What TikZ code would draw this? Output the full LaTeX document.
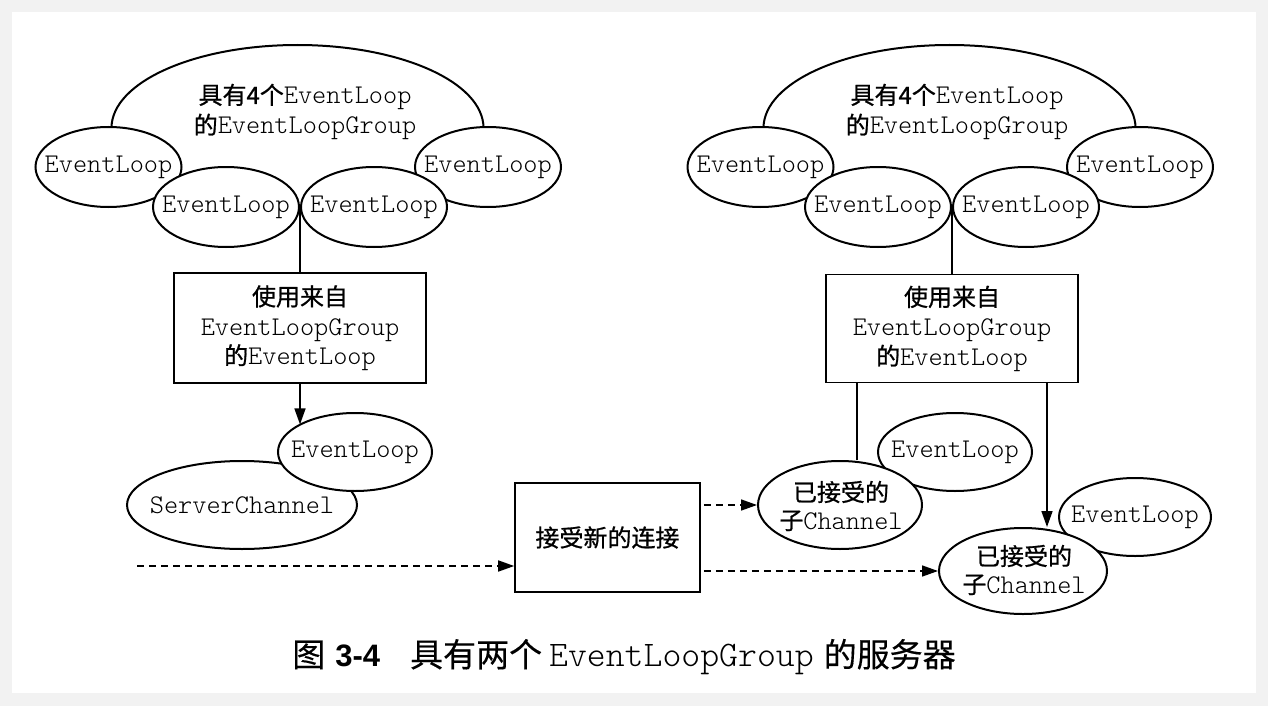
\documentclass[tikz,border=0pt]{standalone}
\usepackage{fontspec}
\newfontfamily\cjk{Noto Sans CJK SC}[FakeBold=0.8]
\newfontfamily\cjkcap{Noto Sans CJK SC}[FakeBold=0.3]
\newfontfamily\mnfam{lmmonolt10-regular.otf}
\newfontfamily\capsans{Liberation Sans}
\usetikzlibrary{shapes.geometric,arrows.meta,calc}
\newcommand\mn{\mnfam\fontsize{13.5}{15}\selectfont}
\newcommand\zh{\cjk\fontsize{12}{15}\selectfont}
\begin{document}
\begin{tikzpicture}[x=0.5pt,y=-0.5pt,
  el/.style={ellipse,draw,line width=1pt,fill=white,inner sep=0pt},
  box/.style={rectangle,draw,line width=0.8pt,fill=white,inner sep=0pt,align=center,font=\fontsize{12}{14.75}\selectfont},
  conn/.style={line width=0.8pt},
  arr/.style={line width=0.8pt,-{Triangle[length=8pt,width=5.5pt]}},
  darr/.style={line width=0.8pt,dash pattern=on 3.5pt off 2.5pt,-{Triangle[length=8pt,width=5.5pt]}},
  txt/.style={align=center,inner sep=0pt,font=\fontsize{12}{15}\selectfont},
  bigarc/.style={line width=1pt}]
\fill[black!5] (0,0) rectangle (1268,706);
\fill[white] (12,12) rectangle (1256,693);
\useasboundingbox (0,0) rectangle (1268,706);

% ---------- left group ----------
\coordinate (G1w) at (111.5,128);
\draw[bigarc] (G1w) arc[start angle=180,end angle=0,x radius=93pt,y radius=41.5pt];
\node[el,minimum width=73pt,minimum height=40pt] (L1) at (108.5,167) {};
\node[el,minimum width=73pt,minimum height=40pt] (L4) at (488,167) {};
\node[el,minimum width=73pt,minimum height=40pt] (L2) at (226,207) {};
\node[el,minimum width=73pt,minimum height=40pt] (L3) at (374,207) {};
\node[txt] (G1t) at (305,112) {{\zh 具有4个}{\mn EventLoop}\\{\zh 的}{\mn EventLoopGroup}};
\node[txt] (L1t) at (L1) {\mn EventLoop};
\node[txt] (L2t) at (L2) {\mn EventLoop};
\node[txt] (L3t) at (L3) {\mn EventLoop};
\node[txt] (L4t) at (L4) {\mn EventLoop};
\coordinate (J1) at ($(L2.east)!0.5!(L3.west)$);

\node[box,minimum width=126pt,minimum height=55pt] (B1) at (300,328)
  {{\zh 使用来自}\\{\mn EventLoopGroup}\\{\zh 的}{\mn EventLoop}};
\draw[conn] (J1) -- (B1.north);

\node[el,minimum width=115pt,minimum height=44pt] (SC) at (242,505) {};
\node[el,minimum width=77pt,minimum height=39pt] (E5) at (355,452) {};
\node[txt] (SCt) at (SC) {\mn ServerChannel};
\node[txt] (E5t) at (E5) {\mn EventLoop};
\draw[arr] (B1.south) -- (B1.south |- E5.154);

% ---------- right group ----------
\coordinate (G2w) at (763.5,128);
\draw[bigarc] (G2w) arc[start angle=180,end angle=0,x radius=93pt,y radius=41.5pt];
\node[el,minimum width=73pt,minimum height=40pt] (R1) at (760.5,167) {};
\node[el,minimum width=73pt,minimum height=40pt] (R4) at (1140,167) {};
\node[el,minimum width=73pt,minimum height=40pt] (R2) at (878,207) {};
\node[el,minimum width=73pt,minimum height=40pt] (R3) at (1026,207) {};
\node[txt] (G2t) at (957,112) {{\zh 具有4个}{\mn EventLoop}\\{\zh 的}{\mn EventLoopGroup}};
\node[txt] (R1t) at (R1) {\mn EventLoop};
\node[txt] (R2t) at (R2) {\mn EventLoop};
\node[txt] (R3t) at (R3) {\mn EventLoop};
\node[txt] (R4t) at (R4) {\mn EventLoop};
\coordinate (J2) at ($(R2.east)!0.5!(R3.west)$);

\node[box,minimum width=126pt,minimum height=54pt] (RB) at (952,328.5)
  {{\zh 使用来自}\\{\mn EventLoopGroup}\\{\zh 的}{\mn EventLoop}};
\draw[conn] (J2) -- (RB.north);

\node[el,minimum width=77pt,minimum height=39pt] (EA) at (955,452) {};
\node[el,minimum width=82pt,minimum height=44pt] (A) at (840,505) {};
\node[el,minimum width=76pt,minimum height=39pt] (EB) at (1135,517) {};
\node[el,minimum width=84pt,minimum height=43pt] (B) at (1023,571) {};
\node[txt] (EAt) at (EA) {\mn EventLoop};
\node[txt] (EBt) at (EB) {\mn EventLoop};
\node[txt,font=\fontsize{12}{14}\selectfont] (At) at (841,506) {{\zh 已接受的}\\{\zh 子}{\mn Channel}};
\node[txt,font=\fontsize{12}{14}\selectfont] (Bt) at (1024,570) {{\zh 已接受的}\\{\zh 子}{\mn Channel}};

\draw[conn] ([xshift=-47.5pt]RB.south) -- ([xshift=-47.5pt]RB.south |- A.north);
\draw[arr] ([xshift=47.5pt]RB.south) -- ([xshift=47.5pt]RB.south |- B.north);

% ---------- acceptor ----------
\node[box,minimum width=92.5pt,minimum height=54.5pt] (B2) at (607.5,537.5) {\zh 接受新的连接};
\coordinate (S) at (137,566);
\draw[darr] (S) -- (S -| B2.west);
\draw[darr] ([xshift=1.5pt,yshift=16.25pt]B2.east) -- (A.west);
\draw[darr] ([xshift=1.5pt,yshift=-16.75pt]B2.east) -- (B.west);

% ---------- caption ----------
\node[inner sep=0pt,anchor=center] (cap) at (624,657)
  {{\cjkcap\fontsize{16.5}{18}\selectfont 图}\hspace{5pt}{\capsans\bfseries\fontsize{15.5}{18}\selectfont 3-4}\hspace{15pt}{\cjkcap\fontsize{16.5}{18}\selectfont 具有两个}\hspace{3.5pt}{\mnfam\fontsize{18}{18}\selectfont EventLoopGroup}\hspace{5pt}{\cjkcap\fontsize{16.5}{18}\selectfont 的服务器}};
\end{tikzpicture}
\end{document}
